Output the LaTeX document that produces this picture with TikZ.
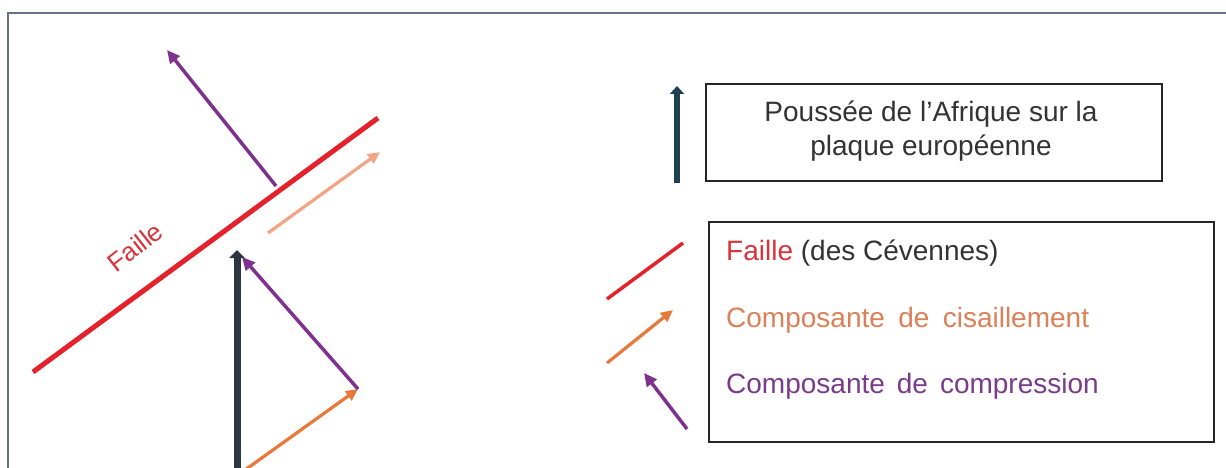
\documentclass[tikz,border=0pt]{standalone}
\usepackage{fontspec}
\setmainfont{Liberation Sans}
\usetikzlibrary{arrows.meta}
\definecolor{framecol}{HTML}{6A7088}
\definecolor{faultred}{HTML}{E5222B}
\definecolor{faulttext}{HTML}{D8343C}
\definecolor{violetc}{HTML}{7E318F}
\definecolor{violettext}{HTML}{7A3C8A}
\definecolor{orangec}{HTML}{E8793A}
\definecolor{orangetext}{HTML}{DC8058}
\definecolor{salmonc}{HTML}{F2A585}
\definecolor{pushcol}{HTML}{2C3540}
\definecolor{pushleg}{HTML}{1F4152}
\begin{document}
\begin{tikzpicture}[x=1pt,y=-1pt,
  fault/.style={faultred,line width=5pt},
  compress/.style={violetc,line width=3.5pt,-{Triangle[length=13pt,width=12pt]}},
  shear/.style={orangec,line width=3.2pt,-{Triangle[length=12pt,width=11pt]}},
  shearlight/.style={salmonc,line width=3.2pt,-{Triangle[length=12pt,width=11pt]}},
  push/.style={pushcol,line width=7pt,-{Triangle[length=8pt,width=15pt]}},
  pushkey/.style={pushleg,line width=6pt,-{Triangle[length=8pt,width=14pt]}},
  legbox/.style={draw=black!85,line width=1.8pt},
  legtext/.style={anchor=base west,inner sep=0pt,font=\fontsize{28}{32}\selectfont},
  titletext/.style={anchor=base,inner sep=0pt,font=\fontsize{28}{33}\selectfont,text=black!80}]
\useasboundingbox (0,0) rectangle (1226,468);
\fill[white] (0,0) rectangle (1226,468);
% outer frame (open on the right and bottom)
\draw[framecol,line width=2.5pt] (8,468) -- (8,13) -- (1226,13);

% fault with its label
\coordinate (f1) at (33,372);
\coordinate (f2) at (378,118);
\draw[fault] (f1) -- (f2);
\node[faulttext,rotate=38,font=\fontsize{26}{30}\selectfont,inner sep=0pt] (flabel) at (135,247) {Faille};

% upper pair: compression and shear relative to the fault
\coordinate (cu0) at (276,186);
\coordinate (cu1) at (167,50);
\draw[compress] (cu0) -- (cu1);
\coordinate (su0) at (268,233);
\coordinate (su1) at (380,152);
\draw[shearlight] (su0) -- (su1);

% lower decomposition of the push
\coordinate (p0) at (237,470);
\coordinate (p1) at (237,250);
\coordinate (sl0) at (245,470);
\coordinate (sl1) at (358,389);
\coordinate (cl1) at (242,257);
\draw[shear] (sl0) -- (sl1);
\draw[compress] (sl1) -- (cl1);
\draw[push] (p0) -- (p1);

% key: push
\node[legbox,minimum width=456pt,minimum height=97pt,anchor=north west] (key1) at (705,83) {};
\node[titletext] (t1) at (931,122) {Poussée de l’Afrique sur la};
\node[titletext] (t2) at (931,155) {plaque européenne};
\coordinate (k0) at (677,183);
\coordinate (k1) at (677,86);
\draw[pushkey] (k0) -- (k1);

% key: fault and components
\node[legbox,minimum width=505pt,minimum height=220pt,anchor=north west] (key2) at (708,221) {};
\node[legtext] (l1) at (726,260) {\textcolor{faulttext}{Faille} \textcolor{black!80}{(des Cévennes)}};
\node[legtext,text=orangetext] (l2) at (726,327) {Composante\hspace{0.2em} de\hspace{0.2em} cisaillement};
\node[legtext,text=violettext] (l3) at (726,393) {Composante\hspace{0.15em} de\hspace{0.15em} compression};
\coordinate (r0) at (607,299);
\coordinate (r1) at (683,243);
\draw[faultred,line width=3.5pt] (r0) -- (r1);
\coordinate (o0) at (607,363);
\coordinate (o1) at (673,310);
\draw[shear] (o0) -- (o1);
\coordinate (v0) at (687,429);
\coordinate (v1) at (644,373);
\draw[compress] (v0) -- (v1);
\end{tikzpicture}
\end{document}
